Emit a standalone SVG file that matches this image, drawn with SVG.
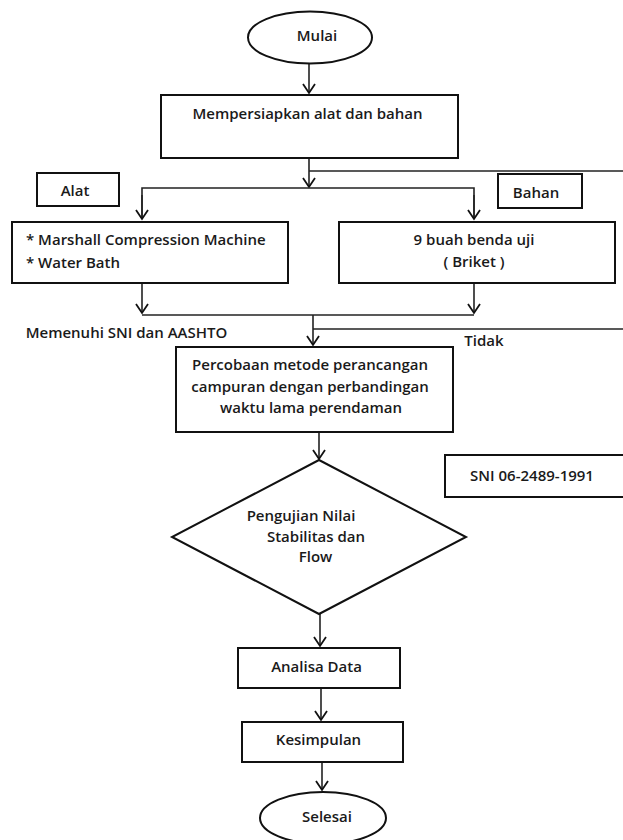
<svg xmlns="http://www.w3.org/2000/svg" width="623" height="840" viewBox="0 0 623 840">
<defs>
<style>
.n{fill:#fff;stroke:#111;stroke-width:2}
.c{fill:none;stroke:#222;stroke-width:1.6}
text{font-family:"Open Sans","Liberation Sans",sans-serif;font-weight:600;font-size:15px;fill:#1a1a1a}
.m{text-anchor:middle}
</style>
<marker id="ah" markerUnits="userSpaceOnUse" markerWidth="14" markerHeight="14" viewBox="-11 -7 13 14" refX="0" refY="0" orient="auto">
<path d="M-9,-6 L0,0 L-9,6" fill="none" stroke="#111" stroke-width="1.8"/>
</marker>
</defs>
<rect width="623" height="840" fill="#fff"/>
<g id="connectors">
<line class="c" x1="309" y1="63" x2="309" y2="93" marker-end="url(#ah)"/>
<line class="c" x1="309" y1="158" x2="309" y2="187" marker-end="url(#ah)"/>
<line class="c" x1="309" y1="171" x2="623" y2="171"/>
<polyline class="c" points="142,219 142,188 474,188 474,219"/>
<line class="c" x1="142" y1="195" x2="142" y2="219" marker-end="url(#ah)"/>
<line class="c" x1="474" y1="195" x2="474" y2="219" marker-end="url(#ah)"/>
<line class="c" x1="142" y1="283" x2="142" y2="313" marker-end="url(#ah)"/>
<line class="c" x1="474" y1="283" x2="474" y2="313" marker-end="url(#ah)"/>
<line class="c" x1="142" y1="315" x2="474" y2="315"/>
<line class="c" x1="313" y1="315" x2="313" y2="345" marker-end="url(#ah)"/>
<line class="c" x1="313" y1="329" x2="623" y2="329"/>
<line class="c" x1="319" y1="432" x2="319" y2="459" marker-end="url(#ah)"/>
<line class="c" x1="320" y1="614" x2="320" y2="646" marker-end="url(#ah)"/>
<line class="c" x1="321" y1="688" x2="321" y2="720" marker-end="url(#ah)"/>
<line class="c" x1="322" y1="762" x2="322" y2="790" marker-end="url(#ah)"/>
</g>
<g id="mulai">
<ellipse class="n" cx="310" cy="37.5" rx="62" ry="26"/>
<text class="m" x="317" y="41">Mulai</text>
</g>
<g id="persiapan">
<rect class="n" x="161" y="95" width="297" height="63"/>
<text class="m" x="307.5" y="119">Mempersiapkan alat dan bahan</text>
</g>
<g id="alat-label">
<rect class="n" x="37" y="173" width="82" height="33"/>
<text class="m" x="75" y="196">Alat</text>
</g>
<g id="bahan-label">
<rect class="n" x="498" y="174" width="84" height="34"/>
<text class="m" x="536" y="198">Bahan</text>
</g>
<g id="alat">
<rect class="n" x="12" y="222" width="276" height="61"/>
<text x="26" y="245">* Marshall Compression Machine</text>
<text x="26" y="268">* Water Bath</text>
</g>
<g id="bahan">
<rect class="n" x="339" y="222" width="276" height="61"/>
<text class="m" x="474" y="245">9 buah benda uji</text>
<text class="m" x="474" y="267">( Briket )</text>
</g>
<g id="label-memenuhi">
<text class="m" x="126.5" y="338">Memenuhi SNI dan AASHTO</text>
</g>
<g id="label-tidak">
<text class="m" x="484" y="346">Tidak</text>
</g>
<g id="percobaan">
<rect class="n" x="176" y="347" width="277" height="85"/>
<text class="m" x="310" y="370">Percobaan metode perancangan</text>
<text class="m" x="310" y="392">campuran dengan perbandingan</text>
<text class="m" x="311" y="413">waktu lama perendaman</text>
</g>
<g id="pengujian">
<polygon class="n" points="319,460 466,537 319,614 172,537"/>
<text class="m" x="301" y="521">Pengujian Nilai</text>
<text class="m" x="316" y="542">Stabilitas dan</text>
<text class="m" x="315.5" y="562">Flow</text>
</g>
<g id="sni">
<rect class="n" x="445" y="455" width="190" height="42"/>
<text class="m" x="532" y="481">SNI 06-2489-1991</text>
</g>
<g id="analisa">
<rect class="n" x="238" y="648" width="162" height="40"/>
<text class="m" x="316.5" y="672">Analisa Data</text>
</g>
<g id="kesimpulan">
<rect class="n" x="242" y="722" width="161" height="40"/>
<text class="m" x="318.5" y="745">Kesimpulan</text>
</g>
<g id="selesai">
<ellipse class="n" cx="323" cy="818" rx="63" ry="26"/>
<text class="m" x="327" y="822">Selesai</text>
</g>
</svg>
